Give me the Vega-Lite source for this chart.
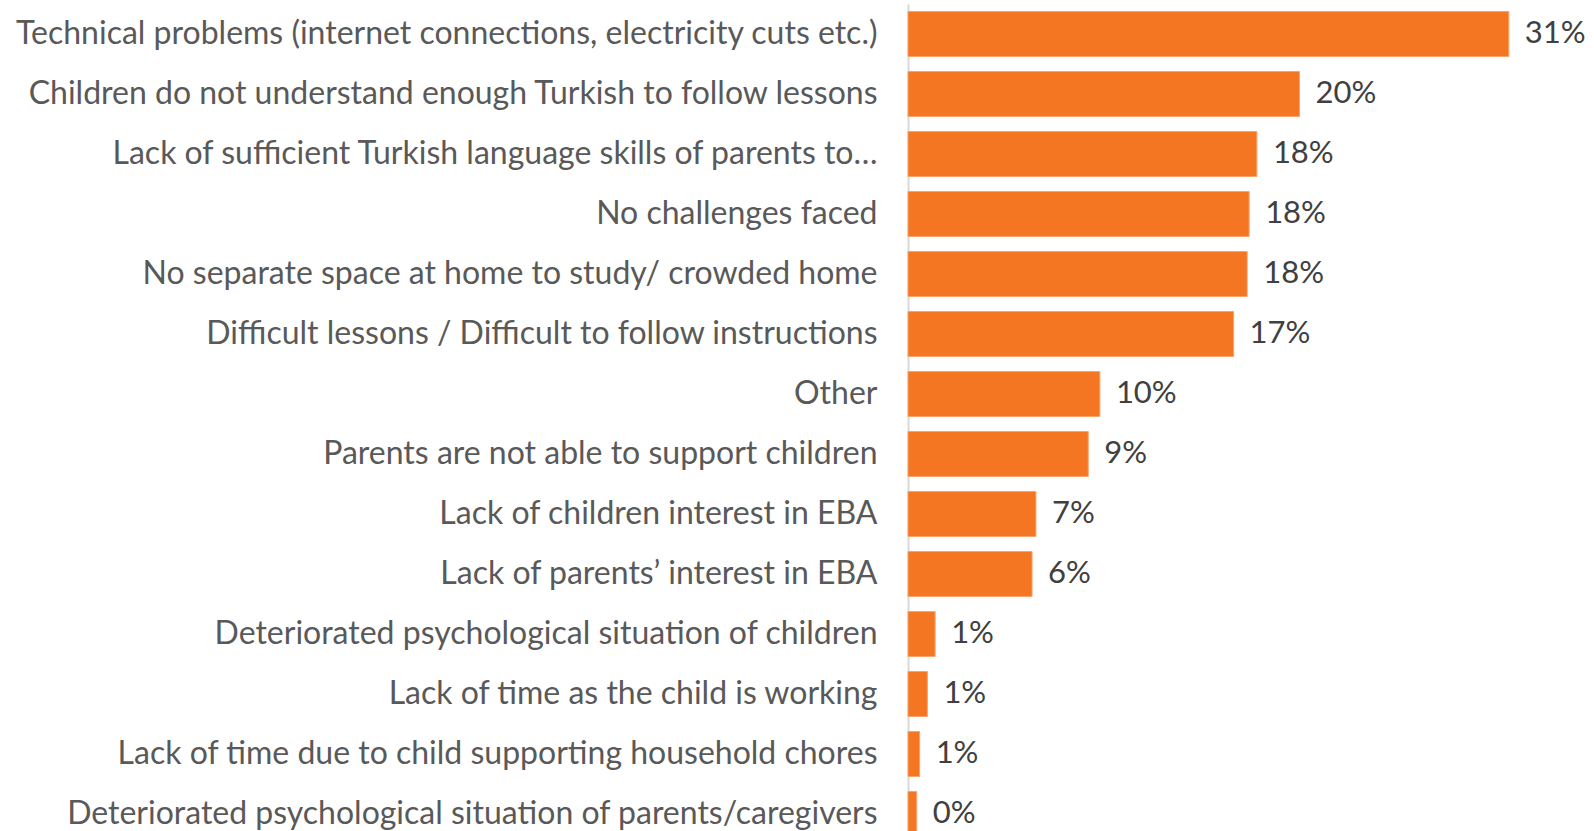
{
  "$schema": "https://vega.github.io/schema/vega-lite/v6.json",
  "autosize": {"type": "none"},
  "width": 659,
  "height": 840,
  "padding": {"left": 908, "top": 4, "right": 27, "bottom": 0},
  "background": "white",
  "config": {"view": {"stroke": null}, "font": "Lato"},
  "data": {
    "values": [
      {"challenge": "Technical problems (internet connections, electricity cuts etc.)", "share": 0.310},
      {"challenge": "Children do not understand enough Turkish to follow lessons", "share": 0.202},
      {"challenge": "Lack of sufficient Turkish language skills of parents to…", "share": 0.180},
      {"challenge": "No challenges faced", "share": 0.176},
      {"challenge": "No separate space at home to study/ crowded home", "share": 0.175},
      {"challenge": "Difficult lessons / Difficult to follow instructions", "share": 0.168},
      {"challenge": "Other", "share": 0.099},
      {"challenge": "Parents are not able to support children", "share": 0.093},
      {"challenge": "Lack of children interest in EBA", "share": 0.066},
      {"challenge": "Lack of parents’ interest in EBA", "share": 0.064},
      {"challenge": "Deteriorated psychological situation of children", "share": 0.014},
      {"challenge": "Lack of time as the child is working", "share": 0.010},
      {"challenge": "Lack of time due to child supporting household chores", "share": 0.006},
      {"challenge": "Deteriorated psychological situation of parents/caregivers", "share": 0.0045}
    ]
  },
  "encoding": {
    "y": {
      "field": "challenge",
      "type": "nominal",
      "sort": null,
      "scale": {"paddingInner": 0.25, "paddingOuter": 0.125},
      "axis": {
        "title": null,
        "ticks": false,
        "domainColor": "#d9d9d9",
        "domainWidth": 2,
        "labelFont": "Lato",
        "labelFontSize": 32,
        "labelColor": "#595959",
        "labelPadding": 31,
        "labelLimit": 1000
      }
    },
    "x": {
      "field": "share",
      "type": "quantitative",
      "scale": {"domain": [0, 0.34], "nice": false},
      "axis": null
    }
  },
  "layer": [
    {"mark": {"type": "bar", "color": "#F47623", "stroke": "#f9a56c", "strokeWidth": 1}},
    {
      "mark": {"type": "text", "align": "left", "baseline": "middle", "dx": 16, "font": "Lato", "fontSize": 31, "color": "#404040", "clip": false},
      "encoding": {"text": {"field": "share", "type": "quantitative", "format": ".0%"}}
    }
  ]
}
